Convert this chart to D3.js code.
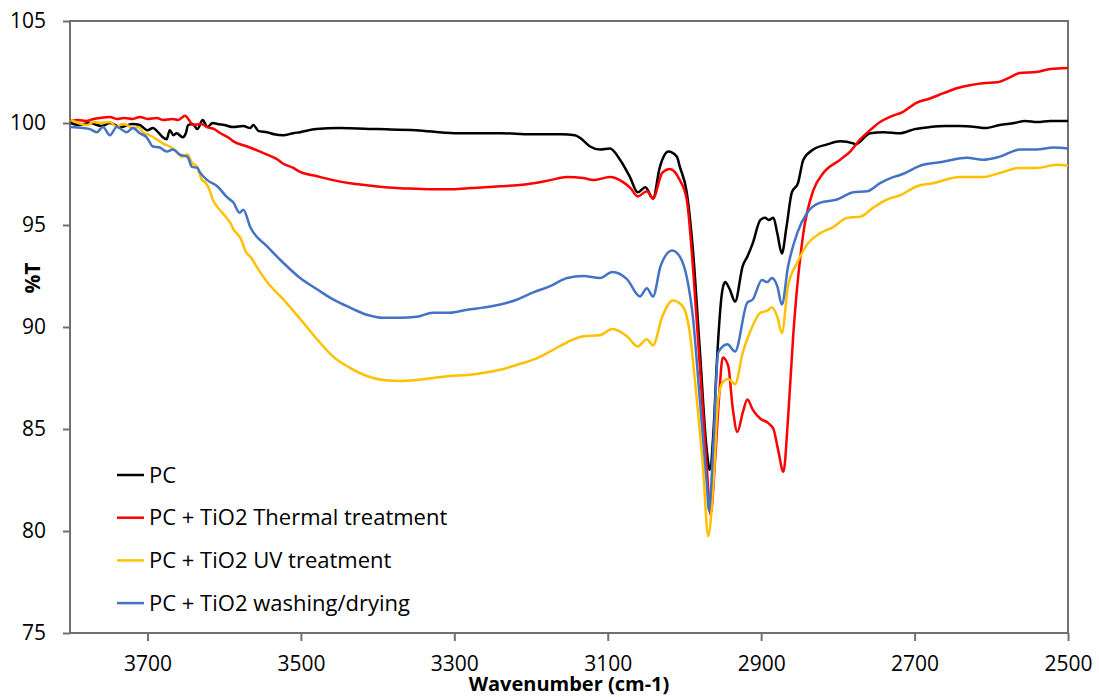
<!DOCTYPE html>
<html>
<head>
<meta charset="utf-8">
<script src="https://cdn.jsdelivr.net/npm/d3@7"></script>
<style>
  body { margin: 0; background: #fff; }
  svg { display: block; }
  text { font-family: "Open Sans", "Noto Sans", sans-serif; fill: #000; }
</style>
</head>
<body>
<svg id="chart" width="1099" height="697"></svg>
<script>
// series as [wavenumber, %T]
var pc = [
  [3800, 100.0], [3790, 99.9], [3775, 100.0], [3760, 99.85], [3749, 100.0], [3735, 99.8], [3720, 99.95],
  [3710, 99.9], [3700, 99.65], [3693, 99.75], [3685, 99.5], [3680, 99.3], [3675, 99.2], [3671, 99.65],
  [3666, 99.4], [3662, 99.5], [3654, 99.3], [3650, 99.5], [3647, 99.9], [3641, 99.95], [3635, 99.7],
  [3628, 100.15], [3622, 99.8], [3615, 100.0], [3609, 99.95], [3600, 99.9], [3588, 99.8], [3575, 99.85],
  [3566, 99.75], [3562, 99.9], [3555, 99.6], [3544, 99.55], [3535, 99.45], [3523, 99.4], [3510, 99.5],
  [3501, 99.55], [3480, 99.7], [3450, 99.75], [3400, 99.7], [3350, 99.65], [3300, 99.5], [3240, 99.5],
  [3200, 99.45], [3160, 99.45], [3143, 99.4], [3136, 99.27], [3123, 98.85], [3110, 98.7], [3097, 98.75],
  [3084, 98.2], [3071, 97.35], [3061, 96.6], [3051, 96.85], [3041, 96.3], [3032, 97.85], [3021, 98.6],
  [3010, 98.35], [3006, 97.85], [2997, 96.6], [2989, 93.8], [2980, 88.9], [2971, 84.0], [2967, 83.0],
  [2962, 85.0], [2958, 88.1], [2951, 91.7], [2947, 92.2], [2941, 91.85], [2934, 91.25], [2924, 93.0],
  [2918, 93.45], [2911, 94.1], [2901, 95.25], [2895, 95.35], [2890, 95.25], [2884, 95.35], [2879, 94.6],
  [2873, 93.6], [2867, 94.9], [2860, 96.6], [2852, 97.05], [2845, 98.2], [2832, 98.7], [2814, 98.95],
  [2797, 99.1], [2780, 99.0], [2777, 98.95], [2758, 99.5], [2740, 99.55], [2719, 99.5], [2700, 99.7],
  [2680, 99.8], [2660, 99.85], [2641, 99.85], [2620, 99.8], [2608, 99.75], [2589, 99.9], [2570, 100.0],
  [2556, 100.1], [2540, 100.05], [2523, 100.1], [2500, 100.1]
];

var thermal = [
  [3800, 100.1], [3790, 100.15], [3780, 100.1], [3770, 100.2], [3762, 100.25], [3749, 100.3], [3740, 100.2],
  [3730, 100.25], [3719, 100.2], [3710, 100.3], [3700, 100.2], [3688, 100.25], [3680, 100.15], [3667, 100.2],
  [3660, 100.15], [3651, 100.35], [3645, 100.1], [3641, 99.9], [3630, 99.95], [3622, 99.8], [3613, 99.7],
  [3605, 99.5], [3595, 99.3], [3588, 99.1], [3570, 98.85], [3560, 98.7], [3544, 98.45], [3530, 98.2],
  [3523, 98.0], [3510, 97.8], [3501, 97.6], [3480, 97.4], [3458, 97.2], [3436, 97.05], [3414, 96.95],
  [3390, 96.85], [3371, 96.8], [3350, 96.78], [3328, 96.75], [3306, 96.75], [3283, 96.8], [3260, 96.85],
  [3240, 96.9], [3218, 96.95], [3197, 97.05], [3175, 97.2], [3153, 97.35], [3132, 97.3], [3119, 97.2],
  [3097, 97.35], [3080, 97.1], [3070, 96.8], [3061, 96.4], [3049, 96.65], [3041, 96.3], [3029, 97.55],
  [3019, 97.75], [3006, 97.2], [2997, 96.25], [2989, 93.0], [2980, 88.1], [2971, 83.2], [2966, 80.8],
  [2960, 83.5], [2955, 86.5], [2950, 88.5], [2943, 88.1], [2937, 86.0], [2931, 84.85], [2924, 85.8],
  [2918, 86.45], [2911, 85.95], [2901, 85.5], [2891, 85.3], [2884, 85.0], [2878, 84.0], [2871, 82.9],
  [2865, 85.5], [2858, 89.7], [2845, 94.6], [2832, 96.7], [2819, 97.55], [2797, 98.2], [2784, 98.6],
  [2771, 99.2], [2758, 99.65], [2745, 100.05], [2732, 100.3], [2715, 100.55], [2697, 101.0], [2680, 101.2],
  [2663, 101.45], [2645, 101.7], [2628, 101.85], [2611, 101.95], [2592, 102.0], [2575, 102.25], [2563, 102.45],
  [2541, 102.5], [2523, 102.65], [2500, 102.7]
];

var uv = [
  [3800, 100.15], [3790, 100.0], [3779, 99.9], [3770, 100.05], [3762, 100.0], [3749, 100.05], [3740, 99.8],
  [3733, 99.95], [3727, 99.9], [3719, 99.75], [3712, 99.8], [3706, 99.55], [3697, 99.4], [3688, 99.2],
  [3680, 99.0], [3671, 98.85], [3662, 98.6], [3655, 98.35], [3648, 98.45], [3642, 98.05], [3635, 97.85],
  [3629, 97.2], [3625, 97.1], [3618, 96.6], [3615, 96.25], [3609, 95.9], [3598, 95.4], [3592, 95.1],
  [3588, 94.8], [3578, 94.3], [3572, 93.7], [3566, 93.45], [3555, 92.8], [3544, 92.2], [3523, 91.35],
  [3501, 90.4], [3479, 89.4], [3458, 88.55], [3436, 88.0], [3414, 87.6], [3393, 87.4], [3371, 87.35],
  [3349, 87.4], [3328, 87.5], [3306, 87.6], [3283, 87.65], [3263, 87.75], [3240, 87.9], [3218, 88.15],
  [3197, 88.4], [3175, 88.8], [3153, 89.25], [3132, 89.55], [3110, 89.6], [3094, 89.9], [3075, 89.55],
  [3061, 89.05], [3049, 89.4], [3041, 89.1], [3029, 90.5], [3015, 91.3], [3002, 91.0], [2993, 89.7],
  [2984, 86.45], [2976, 83.2], [2969, 79.75], [2962, 82.5], [2956, 86.45], [2950, 87.3], [2943, 87.45],
  [2934, 87.2], [2924, 88.75], [2914, 89.8], [2901, 90.7], [2892, 90.8], [2886, 90.95], [2879, 90.5],
  [2873, 89.7], [2865, 92.0], [2853, 93.15], [2840, 94.05], [2823, 94.6], [2806, 94.9], [2788, 95.35],
  [2771, 95.4], [2754, 95.85], [2736, 96.25], [2719, 96.45], [2697, 96.9], [2676, 97.05], [2641, 97.35],
  [2611, 97.35], [2589, 97.55], [2563, 97.8], [2541, 97.8], [2514, 97.95], [2500, 97.9]
];

var washing = [
  [3800, 99.8], [3784, 99.75], [3775, 99.7], [3766, 99.55], [3758, 99.8], [3749, 99.4], [3740, 99.8],
  [3727, 99.55], [3719, 99.75], [3710, 99.5], [3701, 99.3], [3693, 98.85], [3684, 98.8], [3675, 98.6],
  [3667, 98.7], [3658, 98.45], [3648, 98.35], [3642, 97.85], [3635, 97.8], [3632, 97.6], [3622, 97.2],
  [3609, 96.9], [3596, 96.35], [3588, 96.1], [3580, 95.6], [3575, 95.75], [3566, 94.9], [3544, 93.95],
  [3523, 93.15], [3501, 92.4], [3479, 91.85], [3458, 91.35], [3436, 90.95], [3414, 90.6], [3393, 90.45],
  [3371, 90.45], [3349, 90.5], [3328, 90.7], [3306, 90.7], [3283, 90.85], [3263, 90.95], [3240, 91.1],
  [3218, 91.35], [3197, 91.7], [3175, 92.0], [3153, 92.4], [3132, 92.5], [3110, 92.4], [3094, 92.7],
  [3075, 92.35], [3058, 91.5], [3049, 91.9], [3041, 91.5], [3031, 93.0], [3016, 93.75], [3006, 93.45],
  [2997, 92.45], [2989, 90.5], [2980, 86.45], [2971, 82.4], [2968, 81.0], [2962, 84.5], [2956, 88.75],
  [2944, 89.15], [2934, 88.8], [2918, 91.2], [2911, 91.35], [2899, 92.3], [2892, 92.2], [2886, 92.4],
  [2879, 92.0], [2873, 91.1], [2865, 92.95], [2853, 94.6], [2840, 95.6], [2823, 96.1], [2801, 96.25],
  [2780, 96.6], [2762, 96.65], [2745, 97.05], [2728, 97.35], [2719, 97.45], [2689, 97.95], [2663, 98.1],
  [2632, 98.3], [2611, 98.2], [2589, 98.35], [2563, 98.7], [2541, 98.7], [2519, 98.8], [2500, 98.75]
];

var seriesNames = ['PC', 'PC + TiO2 Thermal treatment', 'PC + TiO2 UV treatment', 'PC + TiO2 washing/drying'];
var seriesColors = ['#000000', '#ff0000', '#ffc000', '#4472c4'];
var xTicks = [3700, 3500, 3300, 3100, 2900, 2700, 2500];
var yTicks = [75, 80, 85, 90, 95, 100, 105];

var plotLeft = 70, plotRight = 1068, plotTop = 21, plotBottom = 633;

var svg = d3.select('#chart');

var x = d3.scaleLinear().domain([3801, 2500]).range([plotLeft, plotRight]);
var y = d3.scaleLinear().domain([75, 105]).range([plotBottom, plotTop]);

// frame
svg.append('rect')
  .attr('x', plotLeft).attr('y', plotTop)
  .attr('width', plotRight - plotLeft).attr('height', plotBottom - plotTop)
  .attr('fill', 'none')
  .attr('stroke', '#707070')
  .attr('stroke-width', 2);

var yAxis = svg.append('g')
  .attr('transform', 'translate(' + plotLeft + ',0)')
  .call(d3.axisLeft(y).tickValues(yTicks).tickFormat(d3.format('d'))
    .tickSize(7).tickSizeOuter(0).tickPadding(17));

var xAxis = svg.append('g')
  .attr('transform', 'translate(0,' + plotBottom + ')')
  .call(d3.axisBottom(x).tickValues(xTicks).tickFormat(d3.format('d'))
    .tickSize(8).tickSizeOuter(0).tickPadding(15));

[yAxis, xAxis].forEach(function(g) {
  g.select('.domain').remove();
  g.selectAll('.tick line').attr('stroke', '#707070').attr('stroke-width', 2);
  g.selectAll('.tick text').style('font-size', '21px').attr('fill', '#000');
});

var line = d3.line()
  .x(function(d) { return x(d[0]); })
  .y(function(d) { return y(d[1]); })
  .curve(d3.curveMonotoneX);

var allSeries = [pc, thermal, uv, washing];

svg.append('g').selectAll('path')
  .data(allSeries)
  .enter().append('path')
    .attr('d', line)
    .attr('fill', 'none')
    .attr('stroke', function(d, i) { return seriesColors[i]; })
    .attr('stroke-width', 2.5)
    .attr('stroke-linejoin', 'round');

// legend
var legend = svg.append('g').selectAll('g')
  .data(seriesNames)
  .enter().append('g')
    .attr('transform', function(d, i) { return 'translate(117,' + (475 + i * 42.7) + ')'; });

legend.append('line')
  .attr('x1', 0).attr('x2', 27)
  .attr('stroke', function(d, i) { return seriesColors[i]; })
  .attr('stroke-width', 2.5);

legend.append('text')
  .attr('x', 32)
  .attr('dy', '0.35em')
  .style('font-size', '22px')
  .text(function(d) { return d; });

// axis titles
svg.append('text')
  .attr('x', (plotLeft + plotRight) / 2)
  .attr('y', 691)
  .attr('text-anchor', 'middle')
  .style('font-size', '20px')
  .style('font-weight', 'bold')
  .text('Wavenumber (cm-1)');

svg.append('text')
  .attr('transform', 'translate(40,278) rotate(-90)')
  .attr('text-anchor', 'middle')
  .style('font-size', '21px')
  .style('font-weight', 'bold')
  .text('%T');
</script>
</body>
</html>
